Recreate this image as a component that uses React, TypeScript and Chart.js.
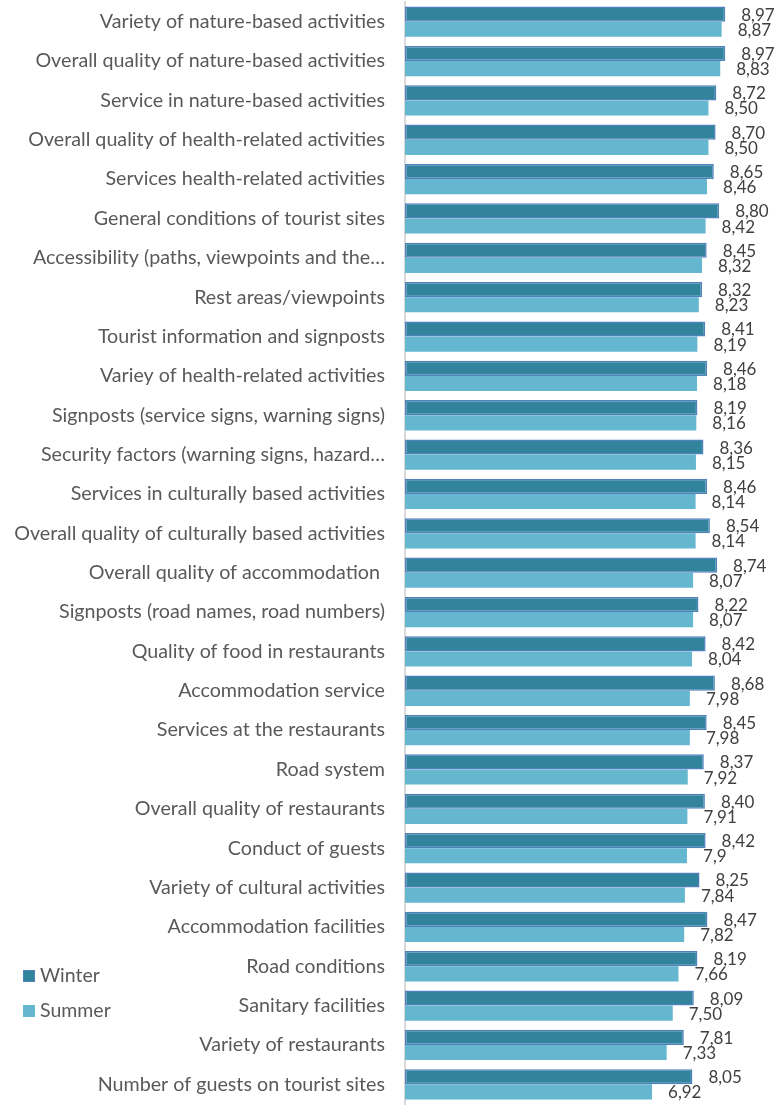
import React, { useEffect, useRef } from "react";
import { Chart, registerables } from "chart.js";

Chart.register(...registerables);

const categories: string[] = [
  "Variety of nature-based activities",
  "Overall quality of nature-based activities",
  "Service in nature-based activities",
  "Overall quality of health-related activities",
  "Services health-related activities",
  "General conditions of tourist sites",
  "Accessibility (paths, viewpoints and the…",
  "Rest areas/viewpoints",
  "Tourist information and signposts",
  "Variey of health-related activities",
  "Signposts (service signs, warning signs)",
  "Security factors (warning signs, hazard…",
  "Services in culturally based activities",
  "Overall quality of culturally based activities",
  "Overall quality of accommodation ",
  "Signposts (road names, road numbers)",
  "Quality of food in restaurants",
  "Accommodation service",
  "Services at the restaurants",
  "Road system",
  "Overall quality of restaurants",
  "Conduct of guests",
  "Variety of cultural activities",
  "Accommodation facilities",
  "Road conditions",
  "Sanitary facilities",
  "Variety of restaurants",
  "Number of guests on tourist sites",
];

const winterText: string[] = [
  "8.97", "8.97", "8.72", "8.70", "8.65", "8.80", "8.45", "8.32", "8.41", "8.46",
  "8.19", "8.36", "8.46", "8.54", "8.74", "8.22", "8.42", "8.68", "8.45", "8.37",
  "8.40", "8.42", "8.25", "8.47", "8.19", "8.09", "7.81", "8.05",
];

const summerText: string[] = [
  "8.87", "8.83", "8.50", "8.50", "8.46", "8.42", "8.32", "8.23", "8.19", "8.18",
  "8.16", "8.15", "8.14", "8.14", "8.07", "8.07", "8.04", "7.98", "7.98", "7.92",
  "7.91", "7.9", "7.84", "7.82", "7.66", "7.50", "7.33", "6.92",
];

const seriesNames = ["Winter", "Summer"];
const seriesText = [winterText, summerText];

const axisMin = 0;
const axisMax = 10;

const FONT = "Lato, sans-serif";
const WINTER_FILL = "#31849B";
const WINTER_BORDER = "#4F81BD";
const SUMMER_FILL = "#65B6CF";
const TEXT_COLOR = "#595959";
const LABEL_COLOR = "#404040";

const valueLabels = {
  id: "valueLabels",
  afterDatasetsDraw(chart: any) {
    const ctx = chart.ctx;
    ctx.save();
    ctx.font = `17px ${FONT}`;
    ctx.fillStyle = LABEL_COLOR;
    ctx.textAlign = "left";
    ctx.textBaseline = "middle";
    chart.data.datasets.forEach((ds: any, di: number) => {
      const meta = chart.getDatasetMeta(di);
      meta.data.forEach((bar: any, i: number) => {
        const txt = seriesText[di][i].replace(".", ",");
        ctx.fillText(txt, bar.x + 16, bar.y + 1);
      });
    });
    ctx.restore();
  },
};

const customLegend = {
  id: "customLegend",
  afterDraw(chart: any) {
    const ctx = chart.ctx;
    ctx.save();
    const items = [
      { text: seriesNames[0], fill: WINTER_FILL, border: WINTER_BORDER, y: 976 },
      { text: seriesNames[1], fill: SUMMER_FILL, border: SUMMER_FILL, y: 1011 },
    ];
    items.forEach((it) => {
      ctx.fillStyle = it.fill;
      ctx.fillRect(23, it.y - 6, 12, 12);
      ctx.strokeStyle = it.border;
      ctx.lineWidth = 1;
      ctx.strokeRect(23.5, it.y - 5.5, 11, 11);
      ctx.fillStyle = TEXT_COLOR;
      ctx.font = `19.5px ${FONT}`;
      ctx.textAlign = "left";
      ctx.textBaseline = "middle";
      ctx.fillText(it.text, 40, it.y);
    });
    ctx.restore();
  },
};

export default function App() {
  const ref = useRef<HTMLCanvasElement | null>(null);

  useEffect(() => {
    if (!ref.current) return;
    const chart = new Chart(ref.current, {
      type: "bar",
      data: {
        labels: categories,
        datasets: [
          {
            label: seriesNames[0],
            data: winterText.map((v) => parseFloat(v)),
            backgroundColor: WINTER_FILL,
            borderColor: WINTER_BORDER,
            borderWidth: 1.5,
            borderSkipped: false,
          },
          {
            label: seriesNames[1],
            data: summerText.map((v) => parseFloat(v)),
            backgroundColor: SUMMER_FILL,
            borderWidth: 0,
          },
        ],
      },
      options: {
        indexAxis: "y",
        animation: false,
        responsive: false,
        maintainAspectRatio: false,
        layout: { padding: { top: 2, bottom: 1, right: 12, left: 0 } },
        datasets: {
          bar: { categoryPercentage: 0.77, barPercentage: 1 },
        },
        plugins: {
          legend: { display: false },
          tooltip: { enabled: false },
        },
        scales: {
          x: {
            display: false,
            min: axisMin,
            max: axisMax,
          },
          y: {
            afterFit(scale: any) {
              scale.width = 405;
              scale.paddingTop = 0;
              scale.paddingBottom = 0;
            },
            grid: { display: false, drawTicks: false },
            border: { display: true, color: "#D9D9D9", width: 2 },
            ticks: {
              color: TEXT_COLOR,
              font: { family: FONT, size: 19.7 },
              padding: 20,
              autoSkip: false,
            },
          },
        },
      } as any,
      plugins: [valueLabels, customLegend],
    });
    return () => chart.destroy();
  }, []);

  return (
    <div style={{ position: "absolute", left: 0, top: 0, width: 774, height: 1105, background: "#fff" }}>
      <canvas ref={ref} width={774} height={1105} style={{ width: 774, height: 1105 }} />
    </div>
  );
}
